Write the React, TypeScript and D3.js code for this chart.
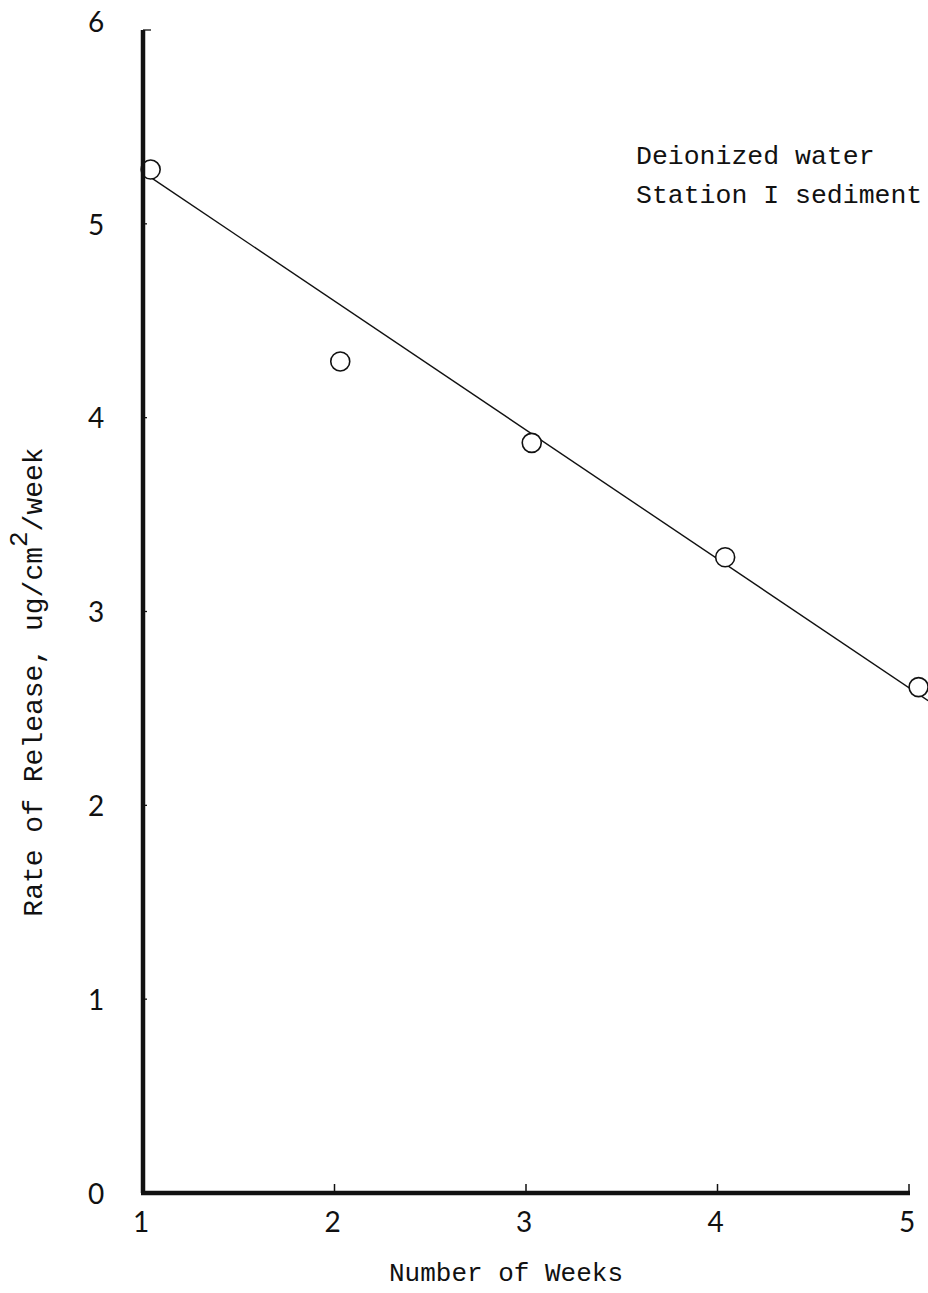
import React from "react";
import * as d3 from "d3";

const xTicks = [1, 2, 3, 4, 5];
const yTicks = [0, 1, 2, 3, 4, 5, 6];
const pointsX = [1.04, 2.03, 3.03, 4.04, 5.05];
const pointsY = [5.28, 4.29, 3.87, 3.28, 2.61];
const lineX = [1.04, 5.1];
const lineY = [5.24, 2.54];
const legendLines = ["Deionized water", "Station I sediment"];

export default function App() {
  const W = 928, H = 1293;
  const x = d3.scaleLinear().domain([1, 5]).range([143, 909]);
  const y = d3.scaleLinear().domain([0, 6]).range([1193, 30]);
  const line = d3.line<number>().x((d, i) => x(lineX[i])).y((d, i) => y(lineY[i]));
  const mono = "'Liberation Mono', 'Courier New', monospace";
  const sans = "Lato, 'Open Sans', sans-serif";
  return (
    <div style={{ position: "absolute", left: 0, top: 0 }}>
      <svg width={W} height={H} style={{ display: "block", background: "#fff" }}>
        <path d={line(lineX) || ""} fill="none" stroke="#111" strokeWidth={1.4} />
        {pointsX.map((px, i) => (
          <circle key={i} cx={x(px)} cy={y(pointsY[i])} r={9.5} fill="#fff" stroke="#111" strokeWidth={1.6} />
        ))}
        {/* axes */}
        <line x1={x(1)} x2={x(1)} y1={y(6)} y2={y(0)} stroke="#111" strokeWidth={4.5} />
        <line x1={x(1) - 2} x2={x(5) + 1} y1={y(0)} y2={y(0)} stroke="#111" strokeWidth={4.5} />
        {xTicks.slice(1).map((t) => (
          <line key={t} x1={x(t)} x2={x(t)} y1={y(0)} y2={y(0) - 9} stroke="#111" strokeWidth={1.5} />
        ))}
        {yTicks.map((t) => (
          <line key={t} x1={x(1)} x2={x(1) + (t === 6 ? 8 : 4)} y1={y(t)} y2={y(t)} stroke="#111" strokeWidth={1.3} />
        ))}
        {xTicks.map((t) => (
          <text key={t} x={x(t) - 2} y={1232} textAnchor="middle" fontFamily={sans} fontSize={28} fill="#111">{t}</text>
        ))}
        {yTicks.map((t) => (
          <text key={t} x={96} y={t === 6 ? y(t) - 8 : y(t) + 1} dy="0.35em" textAnchor="middle" fontFamily={sans} fontSize={28} fill="#111">{t}</text>
        ))}
        <text x={506} y={1281} textAnchor="middle" fontFamily={mono} fontSize={26} fill="#111">Number of Weeks</text>
        <text transform="translate(42,682) rotate(-90)" textAnchor="middle" fontFamily={mono} fontSize={28} fill="#111">
          Rate of Release,  ug/cm<tspan dy={-15} fontSize={26}>2</tspan><tspan dy={15}>/week</tspan>
        </text>
        {legendLines.map((s, i) => (
          <text key={s} x={636} y={164 + i * 39} fontFamily={mono} fontSize={26.5} fill="#111">{s}</text>
        ))}
      </svg>
    </div>
  );
}
